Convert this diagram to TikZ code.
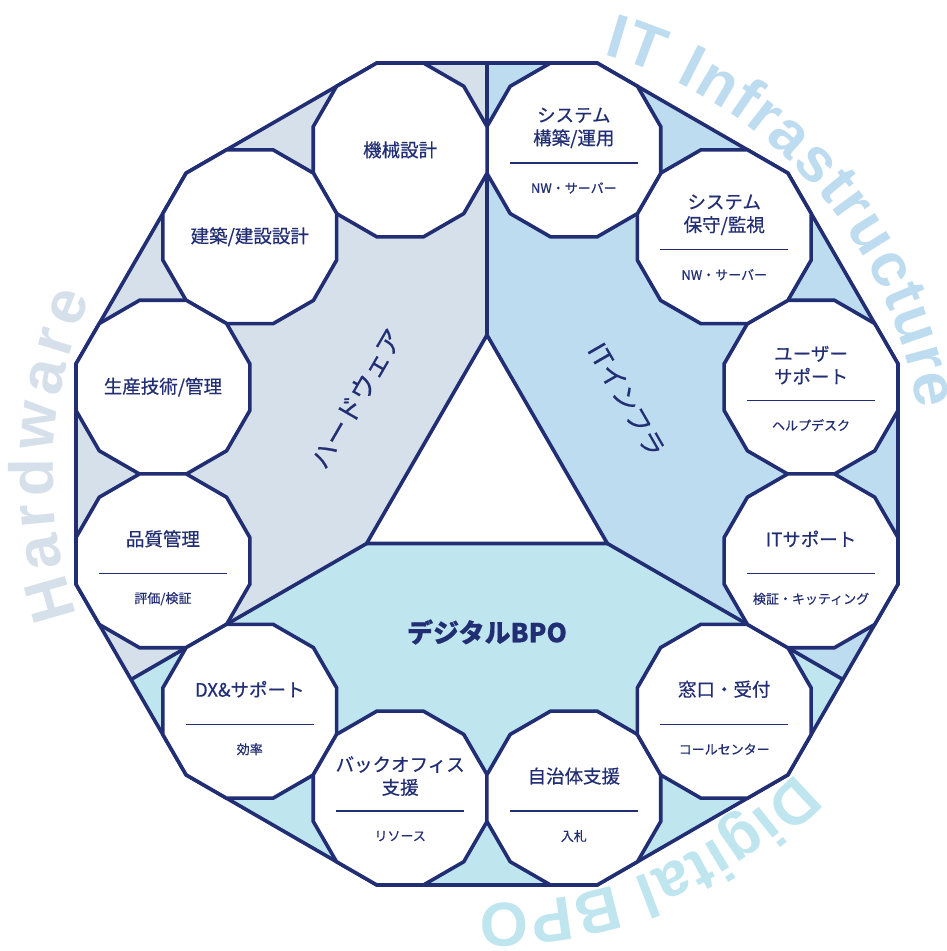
\documentclass[tikz,border=0pt]{standalone}
\usepackage{fontspec}
\usetikzlibrary{decorations.text}
\newfontfamily\jpfont{Noto Sans CJK JP}[FakeBold=0.5]
\newfontfamily\wordfont{Liberation Sans}
\definecolor{navy}{RGB}{33,46,115}
\definecolor{hwfill}{RGB}{214,224,234}
\definecolor{itfill}{RGB}{190,220,239}
\definecolor{bpofill}{RGB}{191,229,239}
\tikzset{
  edge/.style={navy,line width=3.6bp,line join=miter},
  rule/.style={navy,line width=1.3bp},
  cellmain/.style={text=navy,inner sep=0pt,align=center,font=\jpfont\fontsize{18.5bp}{23bp}\selectfont},
  cellsub/.style={text=navy,inner sep=0pt,font=\jpfont\fontsize{13bp}{15bp}\selectfont},
  zone/.style={text=navy,inner sep=0pt,font=\jpfont\fontsize{26bp}{30bp}\selectfont},
  arcword/.style={decorate,decoration={text along path,text align={fit to path},text color=#1,
    text={|\wordfont\bfseries\fontsize{62bp}{62bp}\selectfont|\arcwordtext}}}
}

\begin{document}
\begin{tikzpicture}[x=1bp,y=1bp]
  \useasboundingbox (-487,-477) rectangle (460,474);
  \begin{scope}
    \def\apo{411}
    \def\rad{425.5}
    \def\ring{335.5}
    \def\cell{90}
    \def\tri{139}

    \foreach \a/\c in {90/hwfill,210/bpofill,330/itfill}
      \fill[\c] (0,0) -- (\a:\apo) -- (\a+15:\rad) -- (\a+45:\rad) -- (\a+75:\rad)
        -- (\a+105:\rad) -- (\a+120:\apo) -- cycle;
    \foreach \a in {90,210,330}
      \draw[edge] (\a:\tri) -- (\a:\apo);
    \draw[edge] (15:\rad) \foreach \k in {1,...,11} { -- (15+30*\k:\rad) } -- cycle;
    \draw[edge,fill=white] (90:\tri) -- (210:\tri) -- (330:\tri) -- cycle;

    \foreach \a in {15,45,...,345}
      \draw[edge,fill=white,shift={(\a:\ring)}] (15:\cell)
        \foreach \k in {1,...,11} { -- (15+30*\k:\cell) } -- cycle;
    \foreach \a in {15,45,75,195,225,255,285,315,345}
      \draw[rule,shift={(\a:\ring)}] (-64,-13) -- (64,-13);
  \end{scope}

  % cells
  \node[cellmain] (kikai) at (105:335.5) {機械設計};
  \node[cellmain] (kenchiku) at (135:335.5) {建築/建設設計};
  \node[cellmain] (seisan) at (165:335.5) {生産技術/管理};
  \node[cellmain,yshift=22bp] (hinshitsu) at (195:335.5) {品質管理};
  \node[cellsub,yshift=-38bp] (hyoka) at (195:335.5) {評価/検証};
  \node[cellmain,yshift=22bp] (dx) at (225:335.5) {DX\&サポート};
  \node[cellsub,yshift=-38bp] (koritsu) at (225:335.5) {効率};
  \node[cellmain,yshift=22bp] (back) at (255:335.5) {バックオフィス\\支援};
  \node[cellsub,yshift=-38bp] (resource) at (255:335.5) {リソース};
  \node[cellmain,yshift=22bp] (jichi) at (285:335.5) {自治体支援};
  \node[cellsub,yshift=-38bp] (nyusatsu) at (285:335.5) {入札};
  \node[cellmain,yshift=22bp] (madoguchi) at (315:335.5) {窓口・受付};
  \node[cellsub,yshift=-38bp] (call) at (315:335.5) {コールセンター};
  \node[cellmain,yshift=22bp] (itsup) at (345:335.5) {ITサポート};
  \node[cellsub,yshift=-38bp] (kitting) at (345:335.5) {検証・キッティング};
  \node[cellmain,yshift=22bp] (user) at (15:335.5) {ユーザー\\サポート};
  \node[cellsub,yshift=-38bp] (help) at (15:335.5) {ヘルプデスク};
  \node[cellmain,yshift=22bp] (hoshu) at (45:335.5) {システム\\保守/監視};
  \node[cellsub,yshift=-38bp] (nwa) at (45:335.5) {NW・サーバー};
  \node[cellmain,yshift=22bp] (kochiku) at (75:335.5) {システム\\構築/運用};
  \node[cellsub,yshift=-38bp] (nwb) at (75:335.5) {NW・サーバー};

  % zones
  \node[zone,rotate=60] (hard) at (150:151) {ハードウェア};
  \node[zone,rotate=-60] (infra) at (28:158) {ITインフラ};
  \node[zone,font=\jpfont\bfseries\fontsize{26bp}{30bp}\selectfont] (bpo) at (270:158) {デジタルBPO};

  % words on the ring
  \def\arcwordtext{IT Infrastructure}
  \path[arcword=itfill] (74.5:435bp) arc[start angle=74.5,end angle=8.5,radius=435bp];
  \def\arcwordtext{Digital BPO}
  \path[arcword=bpofill] (-44:430bp) arc[start angle=-44,end angle=-91,radius=430bp];
  \def\arcwordtext{Hardware}
  \path[arcword=hwfill] (199:434bp) arc[start angle=199,end angle=156,radius=434bp];
\end{tikzpicture}
\end{document}
